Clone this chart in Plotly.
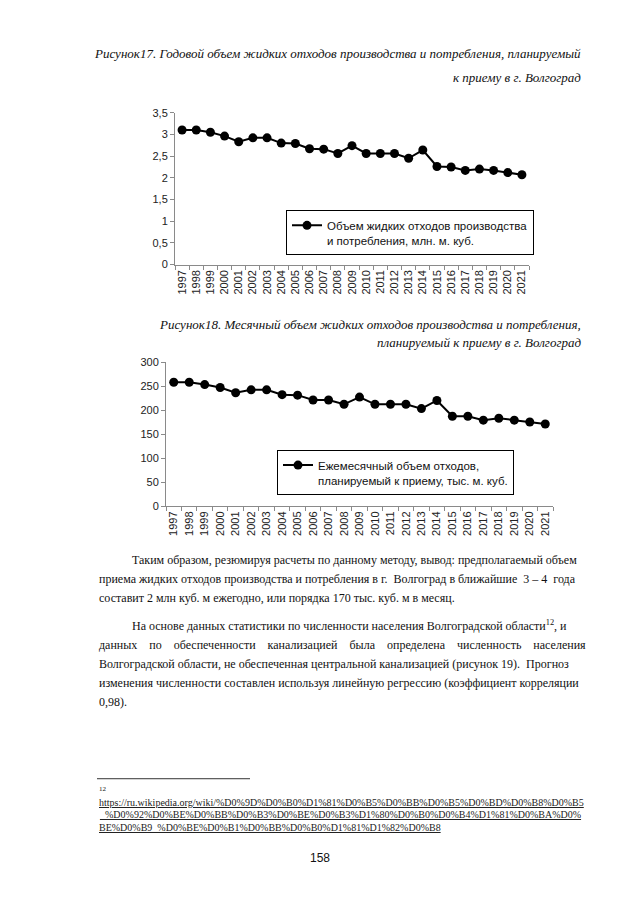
import plotly.graph_objects as go

years = [str(y) for y in range(1997, 2022)]
annual = [3.10, 3.10, 3.05, 2.96, 2.83, 2.92, 2.92, 2.80, 2.79, 2.67, 2.66, 2.56, 2.74,
          2.56, 2.56, 2.56, 2.45, 2.64, 2.26, 2.25, 2.17, 2.20, 2.17, 2.12, 2.07]
monthly = [258, 258, 253, 247, 236, 242, 242, 232, 231, 221, 221, 212, 227,
           212, 212, 212, 203, 220, 187, 187, 179, 183, 179, 175, 171]
y1_ticks = [0, 0.5, 1, 1.5, 2, 2.5, 3, 3.5]
y1_labels = ["0", "0,5", "1", "1,5", "2", "2,5", "3", "3,5"]
y2_ticks = [0, 50, 100, 150, 200, 250, 300]
y2_labels = ["0", "50", "100", "150", "200", "250", "300"]

name1 = "Объем жидких отходов производства<br>и потребления, млн. м. куб."
name2 = "Ежемесячный объем отходов,<br>планируемый к приему, тыс. м. куб."

W, H = 640, 905
OFF = 8  # page body margin of the html output
def px(x):
    return (x - OFF) / W
def py(y):
    return 1 - (y - OFF) / H

fig = go.Figure()
fig.add_trace(go.Scatter(x=years, y=annual, mode="lines+markers", name=name1,
                         line=dict(color="black", width=2),
                         marker=dict(color="black", size=9),
                         xaxis="x", yaxis="y", legend="legend"))
fig.add_trace(go.Scatter(x=years, y=monthly, mode="lines+markers", name=name2,
                         line=dict(color="black", width=2),
                         marker=dict(color="black", size=9),
                         xaxis="x2", yaxis="y2", legend="legend2"))

sans = "Liberation Sans, Arial, sans-serif"
tickfont = dict(family=sans, size=11, color="#222")
axis_common = dict(showgrid=False, zeroline=False, showline=True, linecolor="#8a8a8a",
                   linewidth=1, ticks="outside", tickcolor="#8a8a8a", ticklen=4,
                   tickfont=tickfont, fixedrange=True)

fig.update_layout(
    width=W, height=H, margin=dict(l=0, r=0, t=0, b=0),
    paper_bgcolor="white", plot_bgcolor="white",
    showlegend=True,
    xaxis=dict(domain=[px(175), px(529)], anchor="y", type="category",
               range=[-0.5, 24.5], tickangle=-90, tickson="boundaries", **axis_common),
    yaxis=dict(domain=[py(262), py(108)], anchor="x", range=[0, 3.5],
               tickvals=y1_ticks, ticktext=y1_labels, **axis_common),
    xaxis2=dict(domain=[px(166), px(553)], anchor="y2", type="category",
                range=[-0.5, 24.5], tickangle=-90, tickson="boundaries", **axis_common),
    yaxis2=dict(domain=[py(506.7), py(360.7)], anchor="x2", range=[0, 300],
                tickvals=y2_ticks, ticktext=y2_labels, **axis_common),
    legend=dict(x=px(286), y=py(207), xanchor="left", yanchor="top",
                bordercolor="black", borderwidth=1, bgcolor="white", valign="top",
                font=dict(family=sans, size=11.5, color="#111")),
    legend2=dict(x=px(277), y=py(450), xanchor="left", yanchor="top",
                 bordercolor="black", borderwidth=1, bgcolor="white", valign="top",
                 font=dict(family=sans, size=11.5, color="#111")),
)

serif = "Liberation Serif, Times New Roman, serif"
ann = []
def add_text(text, x, y, size=13, anchor="left", italic=False, family=serif, color="#111"):
    t = f"<i>{text}</i>" if italic else text
    ann.append(dict(text=t, x=px(x), y=py(y), xref="paper", yref="paper",
                    xanchor=anchor, yanchor="middle", showarrow=False,
                    font=dict(family=family, size=size, color=color)))

# captions
add_text("Рисунок17. Годовой объем жидких отходов производства и потребления, планируемый",
         583, 48, anchor="right", italic=True)
add_text("к приему в г. Волгоград", 583, 72, anchor="right", italic=True)
add_text("Рисунок18. Месячный объем жидких отходов производства и потребления,",
         583, 323, anchor="right", italic=True)
add_text("планируемый к приему в г. Волгоград", 583, 341, anchor="right", italic=True)

nb = "\u00a0"
def spread(s, n):
    return (nb * n).join(s.split(" "))

body = [
    (130, 561, "Таким образом, резюмируя расчеты по данному методу, вывод: предполагаемый объем"),
    (97, 581, "приема жидких отходов производства и потребления в г." + nb * 2 + "Волгоград в ближайшие" + nb * 2 + "3 – 4" + nb * 2 + "года"),
    (97, 600, "составит 2 млн куб. м ежегодно, или порядка 170 тыс. куб. м в месяц."),
    (130, 628, "На основе данных статистики по численности населения Волгоградской области<sup>12</sup>, и"),
    (97, 647, spread("данных по обеспеченности канализацией была определена численность населения", 4)),
    (97, 667, "Волгоградской области, не обеспеченная центральной канализацией (рисунок 19)." + nb * 2 + "Прогноз"),
    (97, 686, "изменения численности составлен используя линейную регрессию (коэффициент корреляции"),
    (97, 705, "0,98)."),
]
for x, y, t in body:
    add_text(t, x, y, size=12)

fig.add_shape(type="line", xref="paper", yref="paper", x0=px(97), x1=px(250),
              y0=py(783), y1=py(783), line=dict(color="#333", width=1))
add_text("12", 97, 793, size=7)
urls = [
    "https://ru.wikipedia.org/wiki/%D0%9D%D0%B0%D1%81%D0%B5%D0%BB%D0%B5%D0%BD%D0%B8%D0%B5",
    "_%D0%92%D0%BE%D0%BB%D0%B3%D0%BE%D0%B3%D1%80%D0%B0%D0%B4%D1%81%D0%BA%D0%",
    "BE%D0%B9_%D0%BE%D0%B1%D0%BB%D0%B0%D1%81%D1%82%D0%B8",
]
for i, u in enumerate(urls):
    add_text(f"<u>{u}</u>", 97, 807 + i * 12.5, size=10, color="#222")

add_text("158", 320, 863, size=12, anchor="center", family=sans)

fig.update_layout(annotations=ann)
fig.write_html("out.html")
